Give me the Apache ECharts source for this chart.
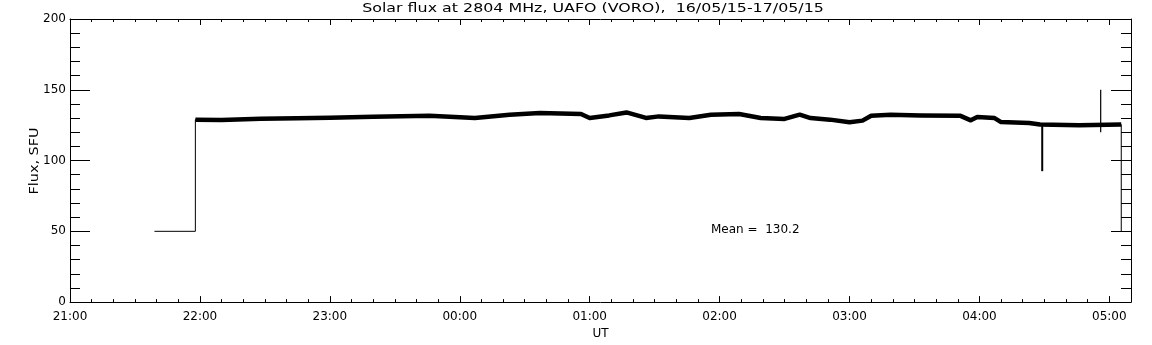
<!DOCTYPE html>
<html>
<head>
<meta charset="utf-8">
<script src="https://cdn.jsdelivr.net/npm/echarts@6/dist/echarts.min.js"></script>
<style>
html,body{margin:0;padding:0;background:#fff;}
#chart{width:1152px;height:345px;}
</style>
</head>
<body>
<div id="chart"></div>
<script>
// time in minutes after 21:00 UT
const preTimes = [39, 57.9];
const preValues = [50, 50];

const bandTimes = [57.9, 70, 88, 105, 120, 140, 166, 187, 203, 217, 236, 240, 249, 257, 266, 272, 286, 296, 309, 319, 330, 337, 342, 351, 360, 366, 370, 379, 393, 411, 416, 419, 427, 430, 443, 448, 466, 485.5];
const bandValues = [128.9, 128.6, 129.5, 129.9, 130.3, 130.9, 131.7, 130.1, 132.4, 133.6, 132.9, 130.1, 131.9, 134.0, 130.1, 131.2, 130.1, 132.4, 132.9, 130.1, 129.4, 132.4, 130.0, 128.9, 127.0, 128.2, 131.7, 132.4, 131.9, 131.7, 128.4, 130.8, 130.0, 127.2, 126.5, 125.4, 124.9, 125.4];

const spikeTimes = [449, 476];
const spikeFrom = [125, 120];
const spikeTo = [92.5, 150];

const endTime = 485.5;
const endValue = 50;

const meanValue = 130.2;
const titleText = 'Solar flux at 2804 MHz, UAFO (VORO),  16/05/15-17/05/15';
const yTitle = 'Flux, SFU';
const xTitle = 'UT';

const FONT = 'DejaVu Sans';
const fmtTime = v => {
  const m = (21 * 60 + Math.round(v)) % 1440;
  const h = Math.floor(m / 60), mm = m % 60;
  return String(h).padStart(2, '0') + ':' + String(mm).padStart(2, '0');
};

const thin = [];
preTimes.forEach((t, i) => thin.push([t, preValues[i]]));
bandTimes.forEach((t, i) => thin.push([t, bandValues[i]]));
thin.push([endTime, endValue]);

const band = bandTimes.map((t, i) => [t, bandValues[i]]);

const spikeSeries = spikeTimes.map((t, i) => ({
  type: 'line', xAxisIndex: 0, yAxisIndex: 0, symbol: 'none', silent: true,
  data: [[t, spikeFrom[i]], [t, spikeTo[i]]],
  lineStyle: {color: '#000', width: i === 0 ? 2 : 1.2}
}));

const black = '#000';
const mkX = (pos, interval, len, main) => ({
  type: 'value', min: 0, max: 490, interval: interval, position: pos,
  splitLine: {show: false},
  axisLine: {show: main, onZero: false, lineStyle: {color: black, width: 1}},
  axisTick: {show: true, inside: true, length: len, lineStyle: {color: black, width: 1}},
  axisLabel: {show: false}
});
const mkY = (pos, interval, len, main) => ({
  type: 'value', min: 0, max: 200, interval: interval, position: pos,
  splitLine: {show: false},
  axisLine: {show: main, onZero: false, lineStyle: {color: black, width: 1}},
  axisTick: {show: true, inside: true, length: len, lineStyle: {color: black, width: 1}},
  axisLabel: {show: false}
});

const xMain = mkX('bottom', 60, 6, true);
xMain.name = xTitle;
xMain.nameLocation = 'middle';
xMain.nameGap = 23;
xMain.nameTextStyle = {color: black, fontFamily: FONT, fontSize: 12};
xMain.axisLabel = {show: true, color: black, fontFamily: FONT, fontSize: 12, margin: 9, formatter: fmtTime, showMaxLabel: false};

const yMain = mkY('left', 50, 20, true);
yMain.axisLabel = {show: true, color: black, fontFamily: FONT, fontSize: 12, margin: 4};

const chart = echarts.init(document.getElementById('chart'), null, {renderer: 'canvas'});
chart.setOption({
  animation: false,
  backgroundColor: '#fff',
  grid: {left: 70, right: 21, top: 19, bottom: 42},
  graphic: [
    {type: 'text', x: 593, y: 9, scaleX: 1.22, style: {text: titleText, font: '13px "' + FONT + '"', fill: black, textAlign: 'center', textVerticalAlign: 'middle'}},
    {type: 'text', x: 35, y: 161, rotation: Math.PI / 2, scaleX: 1.2, style: {text: yTitle, font: '12px "' + FONT + '"', fill: black, textAlign: 'center', textVerticalAlign: 'middle'}},
    {type: 'text', x: 711, y: 230, style: {text: 'Mean =  ' + meanValue.toFixed(1), font: '12px "' + FONT + '"', fill: black, textAlign: 'left', textVerticalAlign: 'middle'}}
  ],
  xAxis: [
    xMain,
    mkX('bottom', 10, 3, false),
    mkX('top', 60, 6, true),
    mkX('top', 10, 3, false)
  ],
  yAxis: [
    yMain,
    mkY('left', 10, 10, false),
    mkY('right', 50, 20, true),
    mkY('right', 10, 10, false)
  ],
  series: [
    {type: 'line', data: thin, xAxisIndex: 0, yAxisIndex: 0, symbol: 'none', lineStyle: {color: black, width: 1}, silent: true},
    {type: 'line', data: band, xAxisIndex: 0, yAxisIndex: 0, symbol: 'none', lineStyle: {color: black, width: 4.5, join: 'round'}, silent: true}
  ].concat(spikeSeries)
});
</script>
</body>
</html>
